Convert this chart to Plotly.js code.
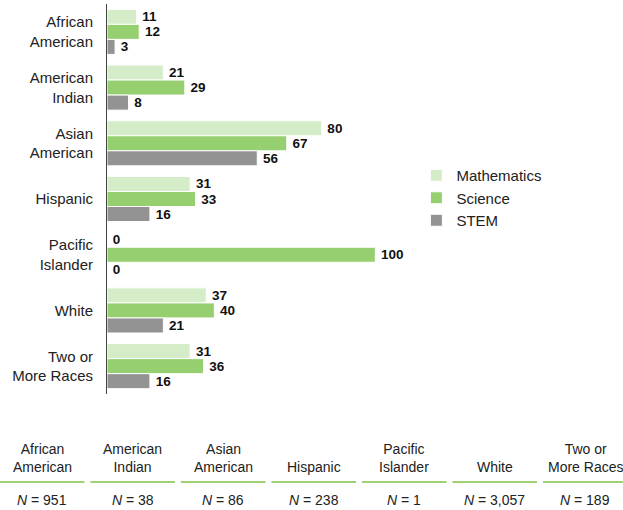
<!DOCTYPE html>
<html>
<head>
<meta charset="utf-8">
<script src="https://cdn.plot.ly/plotly-3.0.1.min.js"></script>
<style>html,body{margin:0;padding:0;background:#fff;} #chart{width:623px;height:510px;}</style>
</head>
<body>
<div id="chart"></div>
<script>
// ---- data ----
var categories = ["African<br>American", "American<br>Indian", "Asian<br>American", "Hispanic", "Pacific<br>Islander", "White", "Two or<br>More Races"];
var mathematics = [11, 21, 80, 31, 0, 37, 31];
var science = [12, 29, 67, 33, 100, 40, 36];
var stem = [3, 8, 56, 16, 0, 21, 16];
var seriesNames = ["Mathematics", "Science", "STEM"];
var tableHeaders = ["African<br>American", "American<br>Indian", "Asian<br>American", "Hispanic", "Pacific<br>Islander", "White", "Two or<br>More Races"];
var tableN = ["951", "38", "86", "238", "1", "3,057", "189"];

// ---- layout helpers ----
var W = 623, H = 510;
var plotL = 107, plotT = 4, plotB = 394, xMax = 120, pxPerUnit = 2.68;
var plotR = plotL + xMax * pxPerUnit;
function px2x(px) { return (px - plotL) / (plotR - plotL); }
function px2y(py) { return (plotB - py) / (plotB - plotT); }

var font = "Liberation Sans, Arial, Helvetica, sans-serif";
var colors = ["#d5ecc9", "#96cf70", "#939393"];
var values = [mathematics, science, stem];

var traces = values.map(function (v, i) {
  return {
    type: "bar", orientation: "h",
    name: seriesNames[i],
    y: categories, x: v,
    marker: { color: colors[i], line: { color: "#ffffff", width: 1 } },
    text: v.map(function (d) { return "\u2009" + d; }),
    textposition: "outside",
    constraintext: "none",
    textfont: { family: font, size: 13.5, color: "#111", weight: "bold" },
    cliponaxis: false,
    hoverinfo: "none"
  };
});

var shapes = [], annotations = [];
var colW = 90.4, segW = 84.5;
for (var i = 0; i < tableHeaders.length; i++) {
  var x0 = i * colW, cx = x0 + segW / 2;
  shapes.push({
    type: "line", xref: "paper", yref: "paper",
    x0: px2x(x0), x1: px2x(Math.min(x0 + segW, W)), y0: px2y(482), y1: px2y(482),
    line: { color: "#7cc243", width: 1.5 }
  });
  annotations.push({
    xref: "paper", yref: "paper", x: px2x(cx), y: px2y(477),
    xanchor: "center", yanchor: "bottom", showarrow: false,
    text: tableHeaders[i], align: "center",
    font: { family: font, size: 14, color: "#222" }
  });
  annotations.push({
    xref: "paper", yref: "paper", x: px2x(cx), y: px2y(500),
    xanchor: "center", yanchor: "middle", showarrow: false,
    text: "<i>N</i> = " + tableN[i],
    font: { family: font, size: 14, color: "#222" }
  });
}

var layout = {
  width: W, height: H,
  margin: { l: plotL, r: W - plotR, t: plotT, b: H - plotB, pad: 0 },
  paper_bgcolor: "#fff", plot_bgcolor: "#fff",
  barmode: "group", bargap: 0.19, bargroupgap: 0,
  showlegend: true,
  legend: {
    x: px2x(416), xanchor: "left", y: px2y(198), yanchor: "middle",
    traceorder: "normal",
    font: { family: font, size: 15, color: "#222" },
    bgcolor: "rgba(0,0,0,0)", itemwidth: 30
  },
  xaxis: { range: [0, xMax], visible: false, fixedrange: true },
  yaxis: {
    autorange: "reversed", type: "category",
    showline: true, linecolor: "#444", linewidth: 1,
    showgrid: false, zeroline: false, ticks: "", ticklabelstandoff: 10,
    tickfont: { family: font, size: 15, color: "#222" }
  },
  shapes: shapes, annotations: annotations
};

Plotly.newPlot("chart", traces, layout, { displayModeBar: false, staticPlot: true });
</script>
</body>
</html>
